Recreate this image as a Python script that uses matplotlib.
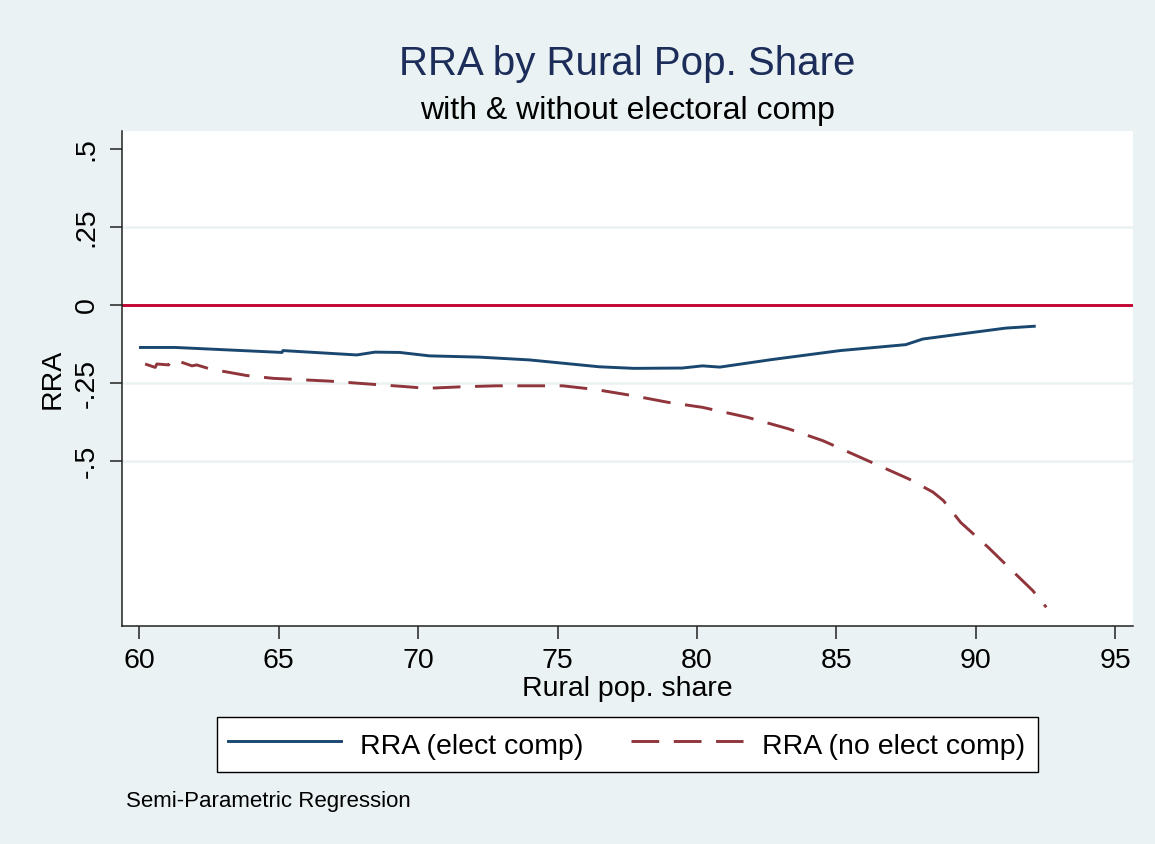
import numpy as np
import matplotlib
matplotlib.use("Agg")
import matplotlib.pyplot as plt
from matplotlib.ticker import FixedLocator, FixedFormatter

plt.rcParams['font.family'] = ['Liberation Sans', 'DejaVu Sans']

# smoothed RRA against rural population share
elect_x = [60.04, 61.29, 65.12, 65.15, 67.8, 68.45, 69.34, 70.41, 72.2, 74.0,
           76.5, 77.0, 77.73, 79.47, 80.2, 80.82, 82.67, 85.14, 87.49, 88.1,
           89.45, 91.07, 92.1]
elect_y = [-0.136, -0.136, -0.152, -0.146, -0.160, -0.151, -0.152, -0.163, -0.167, -0.176,
           -0.198, -0.200, -0.203, -0.202, -0.195, -0.199, -0.175, -0.146, -0.127, -0.109,
           -0.093, -0.074, -0.068]

noelect_x = [60.21, 60.57, 60.63, 61.05, 61.17, 61.47, 61.89, 62.06, 62.54, 63.85,
             64.8, 66.84, 68.5, 69.46, 70.3, 71.6, 72.8, 74.83, 75.19, 76.38,
             77.73, 78.97, 80.2, 81.81, 83.29, 84.52, 86.13, 87.61, 88.47, 88.84,
             89.46, 90.45, 91.31, 92.05, 92.53]
noelect_y = [-0.189, -0.200, -0.189, -0.192, -0.175, -0.182, -0.195, -0.192, -0.205, -0.226,
             -0.235, -0.244, -0.255, -0.261, -0.267, -0.262, -0.259, -0.259, -0.259, -0.271,
             -0.291, -0.312, -0.328, -0.360, -0.397, -0.435, -0.499, -0.558, -0.600, -0.627,
             -0.697, -0.777, -0.852, -0.916, -0.969]

xticks = [60, 65, 70, 75, 80, 85, 90, 95]
yticks = [0.5, 0.25, 0, -0.25, -0.5]
ytick_labels = ['.5', '.25', '0', '-.25', '-.5']

bg = '#eaf2f3'
navy = '#1a476f'
maroon = '#90353b'

fig = plt.figure(figsize=(11.55, 8.44), dpi=100, facecolor=bg)
ax = fig.add_axes([0.1054, 0.2583, 0.8753, 0.5865])
ax.set_facecolor('white')

for g in [0.25, -0.25, -0.5]:
    ax.axhline(g, color=bg, lw=1.8, zorder=1)
ax.axhline(0, color='#c10534', lw=2.1, zorder=2)

l1, = ax.plot(elect_x, elect_y, color=navy, lw=2.1, zorder=3,
              solid_joinstyle='round', label='RRA (elect comp)')
l2, = ax.plot(noelect_x, noelect_y, color=maroon, lw=2.1, zorder=3,
              dashes=(9.5, 5), label='RRA (no elect comp)')

ax.set_xlim(59.37, 95.63)
ax.set_ylim(-1.029, 0.558)

ax.xaxis.set_major_locator(FixedLocator(xticks))
ax.yaxis.set_major_locator(FixedLocator(yticks))
ax.yaxis.set_major_formatter(FixedFormatter(ytick_labels))
ax.tick_params(axis='both', direction='out', length=9, width=1.1, color='#222222',
               labelsize=20.5, pad=7)
for lab in ax.get_yticklabels():
    lab.set_rotation(90)
    lab.set_va('center')

for side in ['top', 'right']:
    ax.spines[side].set_visible(False)
for side in ['left', 'bottom']:
    ax.spines[side].set_linewidth(1.1)
    ax.spines[side].set_color('#222222')

ax.set_xlabel('Rural pop. share', fontsize=20.5, labelpad=1)
ax.set_ylabel('RRA', fontsize=20.5, labelpad=6)

fig.text(0.5429, 0.9111, 'RRA by Rural Pop. Share', ha='center', va='baseline',
         fontsize=29, color='#1c2d5a')
fig.text(0.5429, 0.859, 'with & without electoral comp', ha='center', va='baseline',
         fontsize=23, color='black')

leg = fig.legend(handles=[l1, l2], loc='center', bbox_to_anchor=(0.5429, 0.1179),
                 ncol=2, fontsize=20.5, frameon=True, fancybox=False,
                 edgecolor='black', facecolor='white', framealpha=1,
                 handlelength=3.95, handleheight=1.2, handletextpad=0.68,
                 columnspacing=1.65, borderpad=0.42, borderaxespad=0)
leg.get_frame().set_linewidth(1.0)

fig.text(0.1087, 0.0438, 'Semi-Parametric Regression', ha='left', va='baseline',
         fontsize=16)

fig.savefig('out.png', dpi=100, facecolor=bg)
